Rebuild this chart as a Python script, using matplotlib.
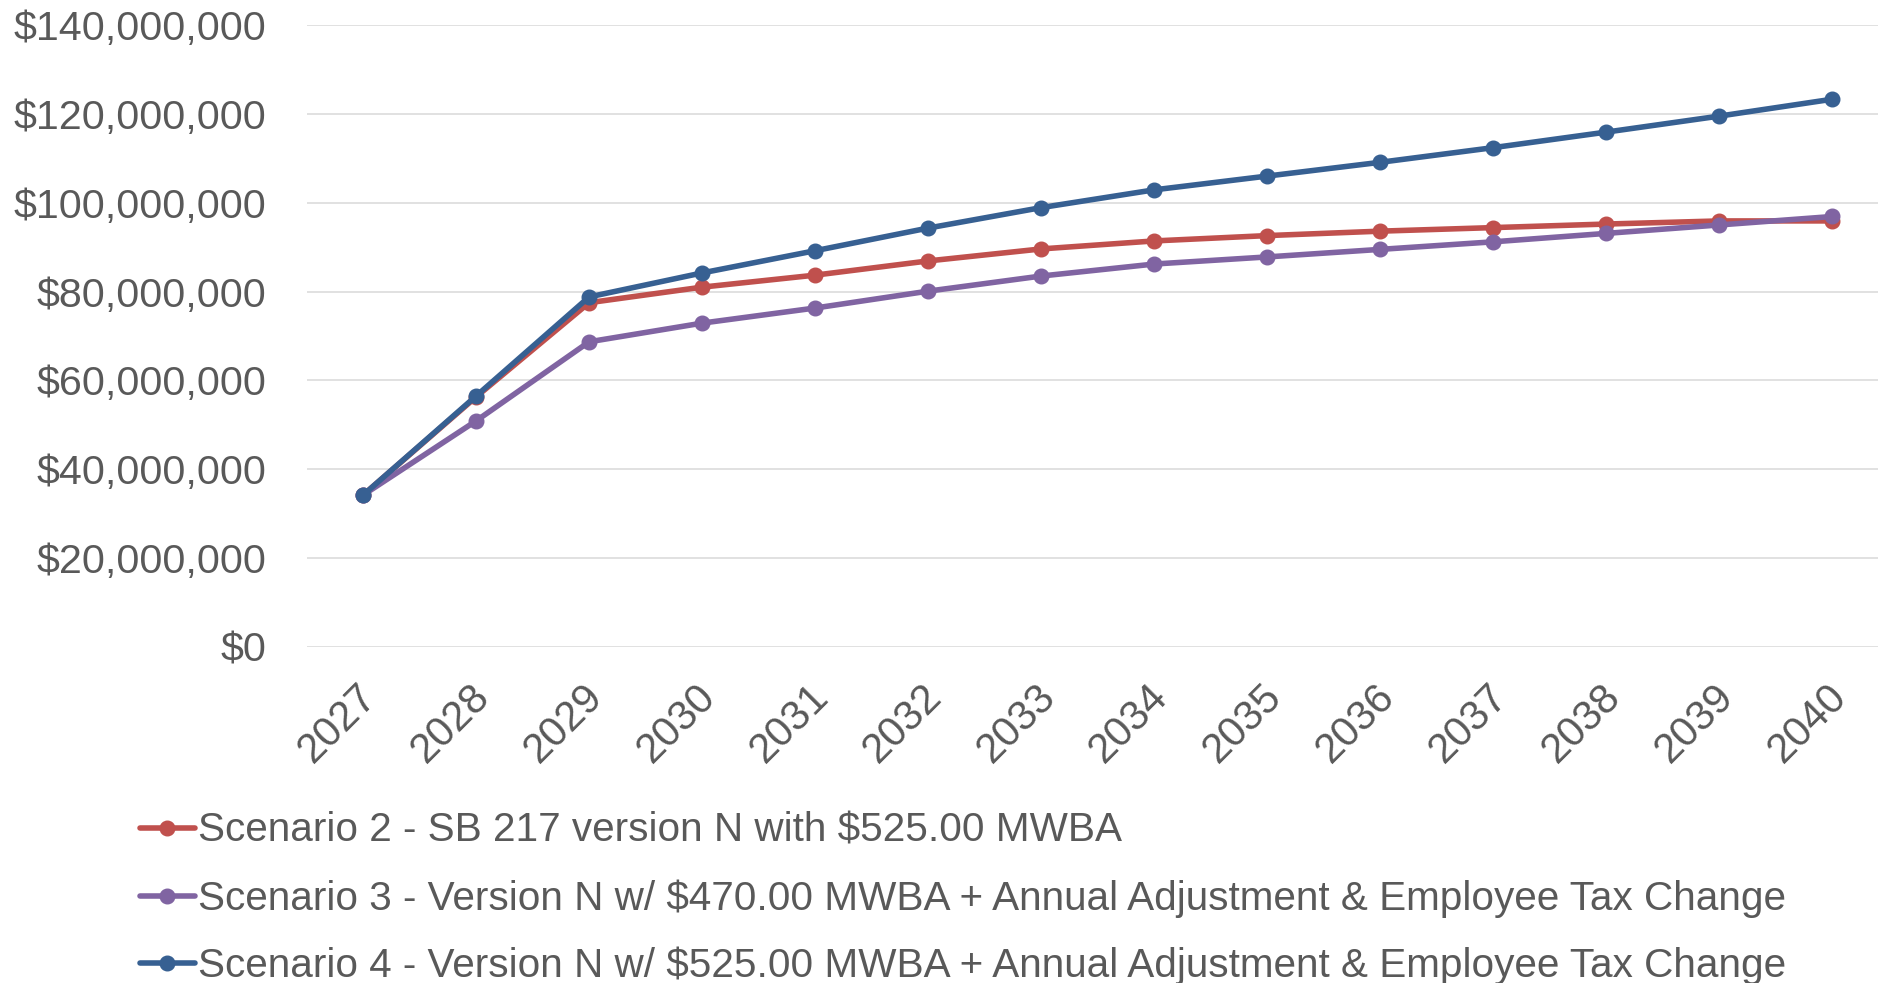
import numpy as np
import matplotlib
matplotlib.use("Agg")
import matplotlib.pyplot as plt
from matplotlib import font_manager
from matplotlib.ticker import FuncFormatter
from matplotlib.transforms import ScaledTranslation

# Data (dollars)
years = [str(y) for y in range(2027, 2041)]
scenario2 = [34.2e6, 56.3e6, 77.5e6, 81.0e6, 83.7e6, 86.9e6, 89.6e6,
             91.4e6, 92.6e6, 93.6e6, 94.4e6, 95.2e6, 95.9e6, 95.9e6]
scenario3 = [34.2e6, 50.9e6, 68.7e6, 72.9e6, 76.3e6, 80.1e6, 83.5e6,
             86.2e6, 87.8e6, 89.5e6, 91.2e6, 93.1e6, 95.0e6, 96.9e6]
scenario4 = [34.2e6, 56.5e6, 78.8e6, 84.2e6, 89.2e6, 94.3e6, 98.9e6,
             102.9e6, 106.0e6, 109.1e6, 112.4e6, 115.9e6, 119.5e6, 123.3e6]
labels = ["Scenario 2 - SB 217 version N with $525.00 MWBA",
          "Scenario 3 - Version N w/ $470.00 MWBA + Annual Adjustment & Employee Tax Change",
          "Scenario 4 - Version N w/ $525.00 MWBA + Annual Adjustment & Employee Tax Change"]
colors = ["#C0504D", "#8064A2", "#376092"]

names = {f.name for f in font_manager.fontManager.ttflist}
tick_font = "Liberation Sans"
legend_font = "Liberation Sans Narrow" if "Liberation Sans Narrow" in names else "Liberation Sans"
text_col = "#595959"

fig = plt.figure(figsize=(18.78, 9.83), dpi=100)
ax = fig.add_axes([306.6 / 1878, 1 - 647 / 983, (1889 - 306.6) / 1878, (647 - 25) / 983])

x = np.arange(len(years))
for vals, lab, c in zip([scenario2, scenario3, scenario4], labels, colors):
    ax.plot(x, vals, color=c, lw=4, marker="o", ms=10.5, label=lab,
            solid_capstyle="round")

ax.set_xlim(-0.5, len(years) - 0.5)
ax.set_ylim(0, 140e6)
ax.set_yticks(np.arange(0, 140e6 + 1, 20e6))
ax.yaxis.set_major_formatter(FuncFormatter(lambda v, p: f"${v:,.0f}"))
ax.grid(axis="y", color="#D9D9D9", lw=1.1)
ax.set_axisbelow(True)
for s in ax.spines.values():
    s.set_visible(False)
ax.tick_params(length=0)
ax.tick_params(axis="y", pad=29, labelsize=29.7, labelcolor=text_col)
ax.set_xticks(x)
ax.set_xticklabels(years, rotation=45, ha="right", va="top",
                   fontsize=30, color=text_col, fontfamily=tick_font)
ax.tick_params(axis="x", pad=21)
off = ScaledTranslation(22 / 100, 0, fig.dpi_scale_trans)
for t in ax.get_xticklabels():
    t.set_transform(t.get_transform() + off)
for t in ax.get_yticklabels():
    t.set_fontfamily(tick_font)

fig.legend(loc="upper left", bbox_to_anchor=(140 / 1878, 1 - 812 / 983),
           frameon=False, prop={"family": legend_font, "size": 29.2},
           labelcolor=text_col, handlelength=1.35, handletextpad=0.08,
           labelspacing=0.72, borderaxespad=0, borderpad=0)

fig.savefig("out.png", dpi=100)
